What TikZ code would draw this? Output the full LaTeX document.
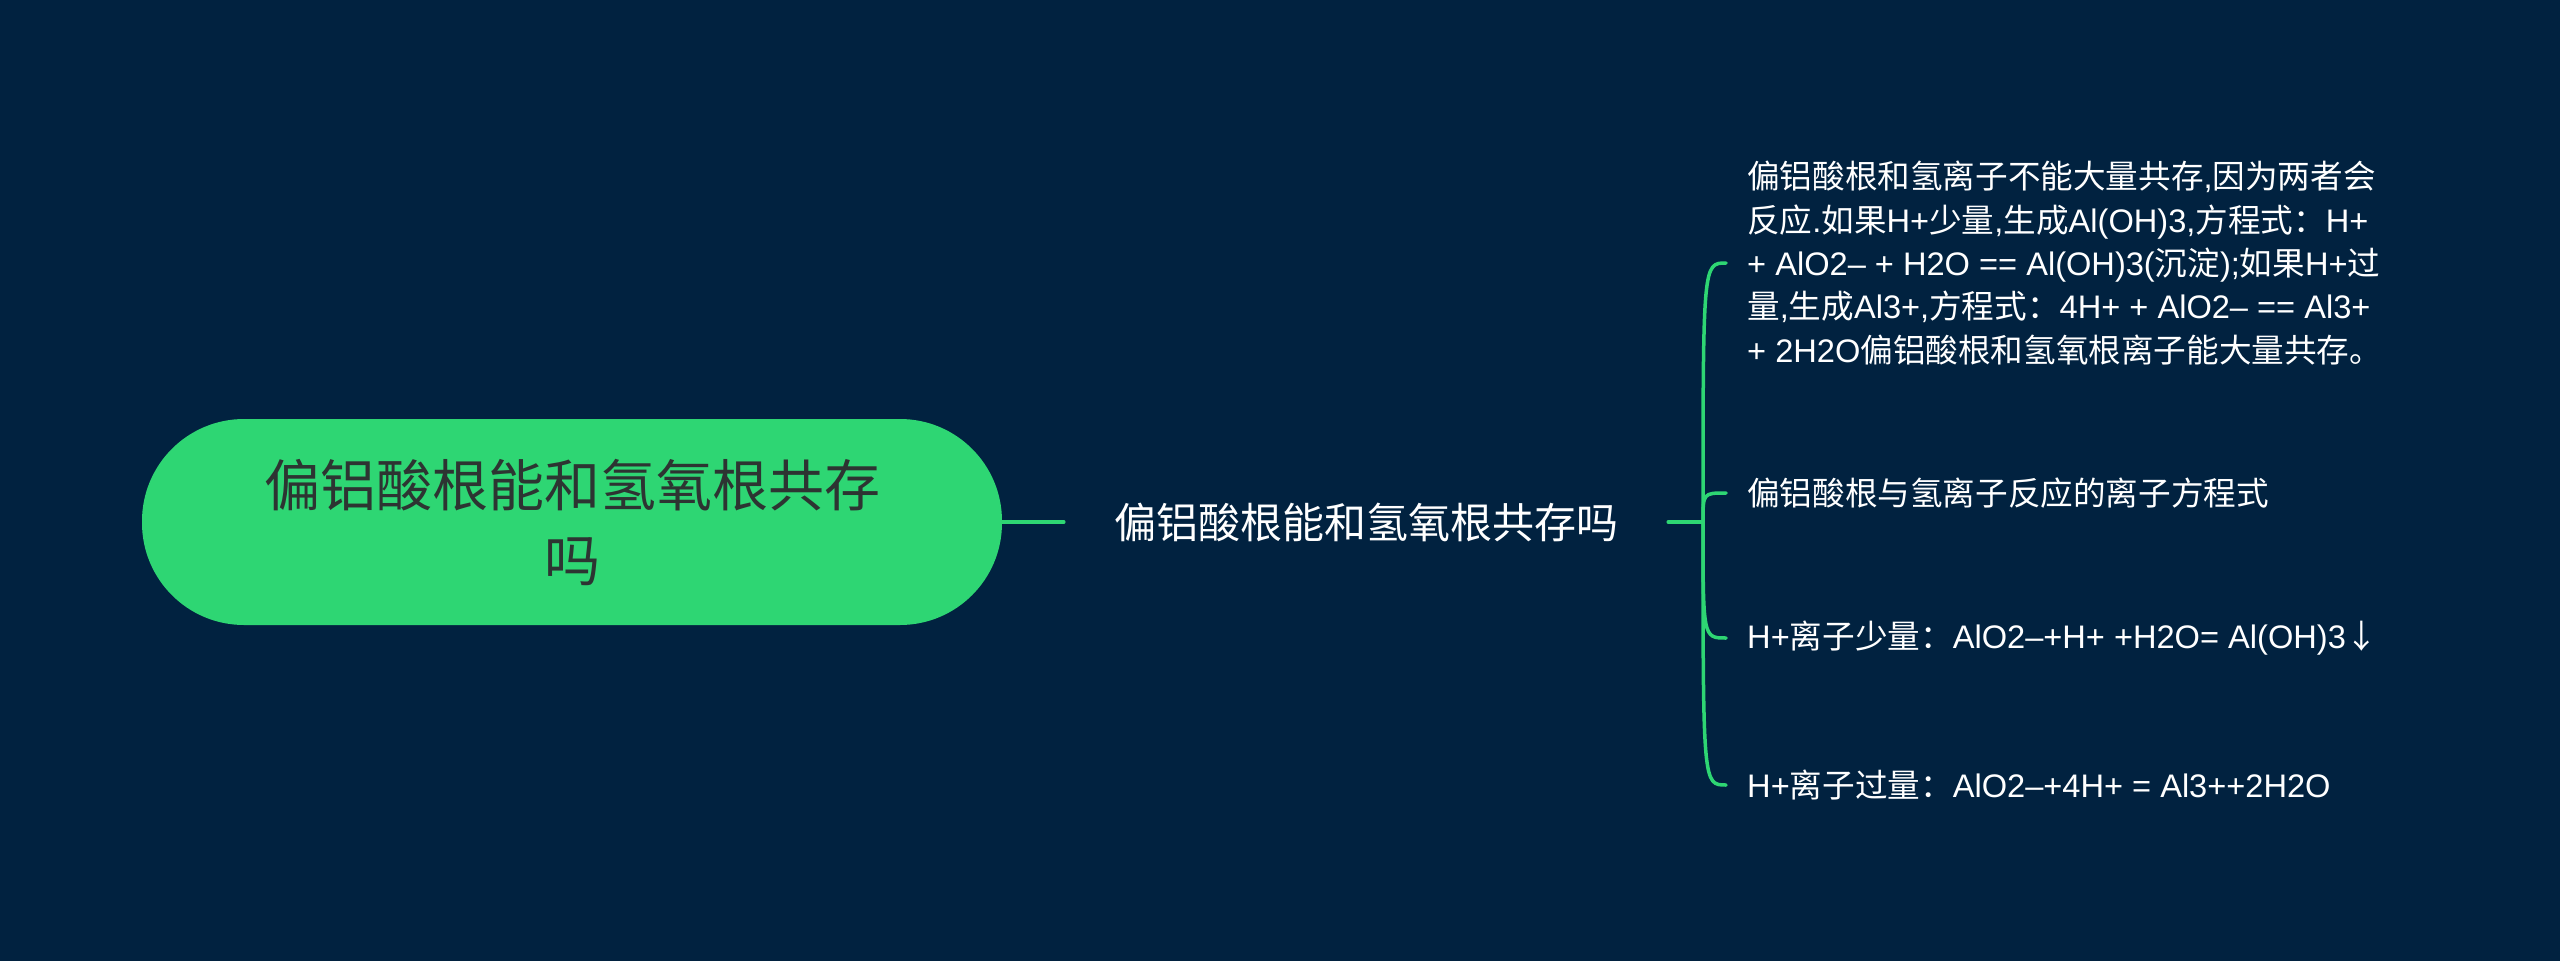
\documentclass[tikz,border=0pt]{standalone}
\usepackage{fontspec}
\setmainfont{Liberation Sans}
\newfontfamily\cjk{Noto Sans CJK SC}
\newcommand{\C}[1]{{\cjk #1}}
\definecolor{bg}{RGB}{1,34,64}
\definecolor{gr}{RGB}{46,214,115}
\definecolor{roottext}{RGB}{45,52,50}
\tikzset{
  rootbox/.style={shape=rectangle, fill=gr, rounded corners=102pt, minimum width=860pt, minimum height=206pt, inner sep=0pt, align=center, text=roottext, font=\cjk\fontsize{56}{75}\selectfont},
  midbox/.style={text=white, inner xsep=50pt, inner ysep=0pt, font=\cjk\fontsize{42}{50}\selectfont},
  leafbox/.style={text=white, anchor=west, inner xsep=21pt, inner ysep=0pt, align=left, font=\fontsize{32.6}{43.3}\selectfont},
  link/.style={draw=gr, line width=3.5pt, line cap=round}
}
\begin{document}
\begin{tikzpicture}[x=1pt,y=-1pt]
\fill[bg] (0,0) rectangle (2560,961);
\useasboundingbox (0,0) rectangle (2560,961);
\node[rootbox] (root) at (572,522) {偏铝酸根能和氢氧根共存\\吗};
\node[midbox] (mid) at (1366,522) {偏铝酸根能和氢氧根共存吗};
\coordinate (hub) at (1703,522);
\node[leafbox] (c1) at (1726,263) {\C{偏铝酸根和氢离子不能大量共存},\C{因为两者会}\\\C{反应}.\C{如果}H+\C{少量},\C{生成}Al(OH)3,\C{方程式：}H+\\+ AlO2– + H2O == Al(OH)3(\C{沉淀});\C{如果}H+\C{过}\\\C{量},\C{生成}Al3+,\C{方程式：}4H+ + AlO2– == Al3+\\+ 2H2O\C{偏铝酸根和氢氧根离子能大量共存。}};
\node[leafbox] (c2) at (1726,493) {\C{偏铝酸根与氢离子反应的离子方程式}};
\node[leafbox] (c3) at (1726,638) {H+\C{离子少量：}AlO2–+H+ +H2O= Al(OH)3\C{↓}};
\node[leafbox] (c4) at (1726,785) {H+\C{离子过量：}AlO2–+4H+ = Al3++2H2O};
\draw[link] (root.east) -- (mid.west);
\draw[link] (mid.east) -- (hub);
\foreach \c in {c1,c2,c3,c4}{
  \draw[link] (hub) .. controls (hub |- \c.west) and (hub |- \c.west) .. (\c.west);
}
\end{tikzpicture}
\end{document}
